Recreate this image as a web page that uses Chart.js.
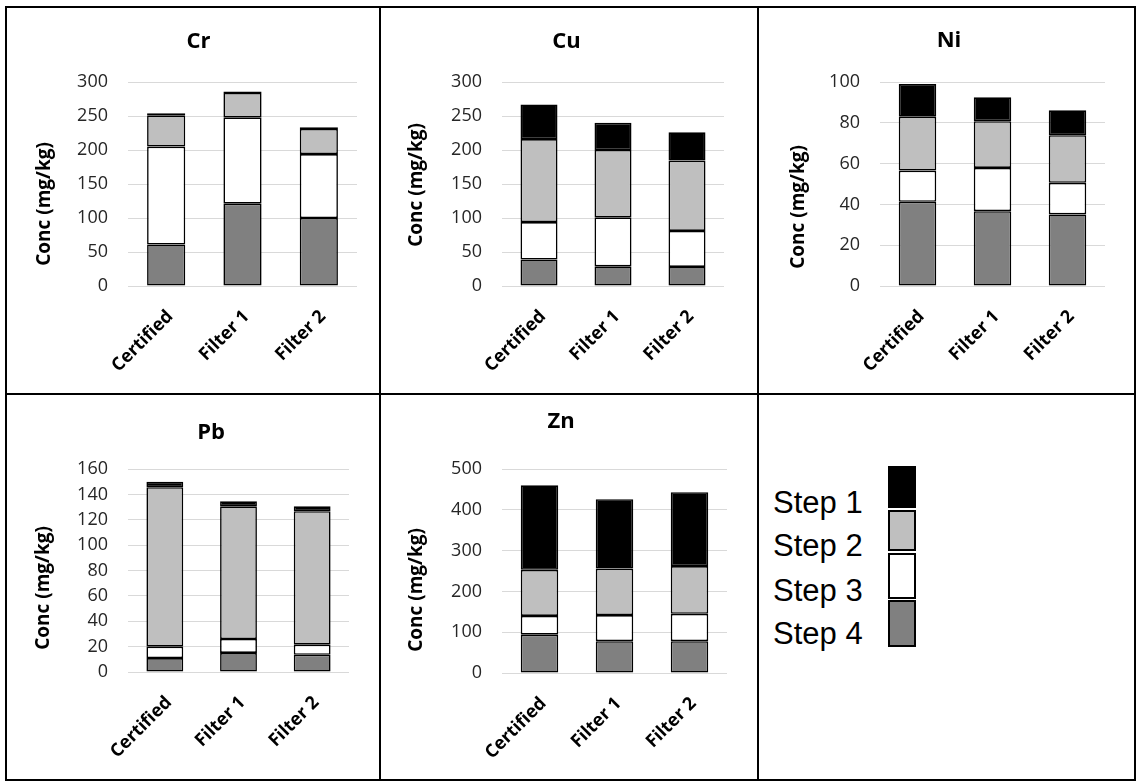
<!DOCTYPE html>
<html>
<head>
<meta charset="utf-8">
<script src="https://cdn.jsdelivr.net/npm/chart.js@4.4.1/dist/chart.umd.min.js"></script>
<style>
  html, body { margin: 0; padding: 0; background: #fff; }
  body { width: 1136px; height: 781px; position: relative; overflow: hidden; }
  canvas { position: absolute; }
  .line { position: absolute; background: #000; z-index: 2; }
  .swatch { position: absolute; left: 888px; width: 28px; box-sizing: border-box; border: 2px solid #000; }
  .step { position: absolute; left: 773px; font-family: 'Liberation Sans', Arial, sans-serif; font-size: 31px; line-height: 31px; color: #000; white-space: nowrap; }
</style>
</head>
<body>
<!-- table frame -->
<div class="line" style="left:5px;top:6px;width:1131px;height:2px"></div>
<div class="line" style="left:5px;top:779px;width:1131px;height:2px"></div>
<div class="line" style="left:5px;top:6px;width:2px;height:775px"></div>
<div class="line" style="left:1134px;top:6px;width:2px;height:775px"></div>
<div class="line" style="left:379px;top:6px;width:2px;height:775px"></div>
<div class="line" style="left:757px;top:6px;width:2px;height:775px"></div>
<div class="line" style="left:5px;top:393px;width:1131px;height:2px"></div>

<!-- legend cell -->
<div class="swatch" style="top:466px;height:42px;background:#000"></div>
<div class="swatch" style="top:510px;height:41px;background:#bfbfbf"></div>
<div class="swatch" style="top:553px;height:46px;background:#fff"></div>
<div class="swatch" style="top:600px;height:47px;background:#808080"></div>
<div class="step" id="lab0" style="top:487px"></div>
<div class="step" id="lab1" style="top:530px"></div>
<div class="step" id="lab2" style="top:575px"></div>
<div class="step" id="lab3" style="top:618px"></div>

<script>
const categories = ['Certified', 'Filter 1', 'Filter 2'];
const stepNames = ['Step 1', 'Step 2', 'Step 3', 'Step 4'];

// mg/kg per extraction step
const crStep1 = [3, 2, 2.5];
const crStep2 = [46, 36, 37];
const crStep3 = [144, 127, 94];
const crStep4 = [61, 121, 100];

const cuStep1 = [51, 40, 41.5];
const cuStep2 = [122, 99, 103.5];
const cuStep3 = [55, 72, 53];
const cuStep4 = [39, 29, 28];

const niStep1 = [16, 11.7, 12.2];
const niStep2 = [26.4, 22.9, 23.3];
const niStep3 = [15.3, 21.2, 15.5];
const niStep4 = [41.3, 36.7, 35.1];

const pbStep1 = [4.4, 3.9, 3.9];
const pbStep2 = [125.6, 104.6, 105.2];
const pbStep3 = [9, 11, 7.9];
const pbStep4 = [11, 15, 13.6];

const znStep1 = [207, 170, 181];
const znStep2 = [113, 114, 117];
const znStep3 = [46, 64, 67];
const znStep4 = [94, 78, 78];

// axis ranges
const yMax = {Cr: 300, Cu: 300, Ni: 100, Pb: 160, Zn: 500};
const yStep = {Cr: 50, Cu: 50, Ni: 20, Pb: 20, Zn: 100};

const stepColors = ['#000000', '#bfbfbf', '#ffffff', '#808080'];
const yTitleText = 'Conc (mg/kg)';

stepNames.forEach((name, i) => {
  document.getElementById('lab' + i).textContent = name;
});

// page layout of each cell (canvas box, plot area, title positions)
const panels = [
  {name: 'Cr', series: [crStep1, crStep2, crStep3, crStep4],
   box: {x: 7, y: 8, w: 372, h: 385}, area: {l: 128, r: 357, t: 82, b: 286},
   titleX: 198.5, titleY: 41.3, yTitleX: 44.5, yTitleY: 204},
  {name: 'Cu', series: [cuStep1, cuStep2, cuStep3, cuStep4],
   box: {x: 381, y: 8, w: 376, h: 385}, area: {l: 502, r: 724, t: 82, b: 286},
   titleX: 566.5, titleY: 41.3, yTitleX: 417, yTitleY: 185},
  {name: 'Ni', series: [niStep1, niStep2, niStep3, niStep4],
   box: {x: 759, y: 8, w: 375, h: 385}, area: {l: 880, r: 1105, t: 82, b: 286},
   titleX: 949, titleY: 41, yTitleX: 799, yTitleY: 207},
  {name: 'Pb', series: [pbStep1, pbStep2, pbStep3, pbStep4],
   box: {x: 7, y: 395, w: 372, h: 384}, area: {l: 128, r: 349, t: 469, b: 672},
   titleX: 211, titleY: 433, yTitleX: 44, yTitleY: 588},
  {name: 'Zn', series: [znStep1, znStep2, znStep3, znStep4],
   box: {x: 381, y: 395, w: 376, h: 384}, area: {l: 502, r: 727, t: 469, b: 673},
   titleX: 561, titleY: 422, yTitleX: 416.5, yTitleY: 590}
];

const FONT = "'Open Sans', 'DejaVu Sans', sans-serif";

// rotated y axis title at a fixed spot
const yTitlePlugin = {
  id: 'yTitle',
  afterDraw(chart, args, opts) {
    const ctx = chart.ctx;
    ctx.save();
    ctx.translate(opts.x, opts.y);
    ctx.rotate(-Math.PI / 2);
    ctx.font = 'bold 19px ' + FONT;
    ctx.fillStyle = '#000';
    ctx.textAlign = 'center';
    ctx.textBaseline = 'middle';
    ctx.fillText(opts.text, 0, 0);
    ctx.restore();
  }
};

function createPanel(p) {
  const canvas = document.createElement('canvas');
  canvas.width = p.box.w;
  canvas.height = p.box.h;
  canvas.style.left = p.box.x + 'px';
  canvas.style.top = p.box.y + 'px';
  document.body.appendChild(canvas);

  const padRight = p.box.x + p.box.w - p.area.r;
  const padLeft = 2 * (p.titleX - p.box.x) - p.box.w + padRight;
  const yWidth = p.area.l - p.box.x - padLeft;
  const xHeight = p.box.y + p.box.h - p.area.b;
  const titleSize = 22;
  const titleLH = titleSize * 1.2;
  const titlePadTop = (p.titleY - p.box.y) - titleLH / 2;
  const titlePadBottom = (p.area.t - p.box.y) - titlePadTop - titleLH;

  // bottom to top: Step 4, Step 3, Step 2, Step 1
  const datasets = [3, 2, 1, 0].map(i => ({
    label: stepNames[i],
    data: p.series[i],
    backgroundColor: stepColors[i],
    borderColor: '#000',
    borderWidth: 1.6,
    borderSkipped: false
  }));

  return new Chart(canvas, {
    type: 'bar',
    data: {labels: categories, datasets: datasets},
    options: {
      responsive: false,
      animation: false,
      layout: {padding: {left: padLeft, right: padRight, top: 0, bottom: 0}},
      plugins: {
        legend: {display: false},
        tooltip: {enabled: false},
        title: {
          display: true,
          text: p.name,
          color: '#000',
          font: {family: FONT, size: titleSize, weight: 'bold'},
          padding: {top: titlePadTop, bottom: titlePadBottom}
        },
        yTitle: {text: yTitleText, x: p.yTitleX - p.box.x, y: p.yTitleY - p.box.y}
      },
      datasets: {
        bar: {barPercentage: 0.5, categoryPercentage: 1}
      },
      scales: {
        x: {
          stacked: true,
          grid: {display: false},
          border: {display: false},
          ticks: {
            minRotation: 45,
            maxRotation: 45,
            padding: 12,
            labelOffset: 4,
            color: '#000',
            font: {family: FONT, size: 18, weight: 'bold'}
          },
          afterFit: (s) => { s.height = xHeight; }
        },
        y: {
          stacked: true,
          min: 0,
          max: yMax[p.name],
          ticks: {
            stepSize: yStep[p.name],
            padding: 20,
            color: '#262626',
            font: {family: FONT, size: 18}
          },
          grid: {color: '#d9d9d9', drawTicks: false},
          border: {display: false},
          afterFit: (s) => { s.width = yWidth; }
        }
      }
    },
    plugins: [yTitlePlugin]
  });
}

panels.forEach(createPanel);
</script>
</body>
</html>
